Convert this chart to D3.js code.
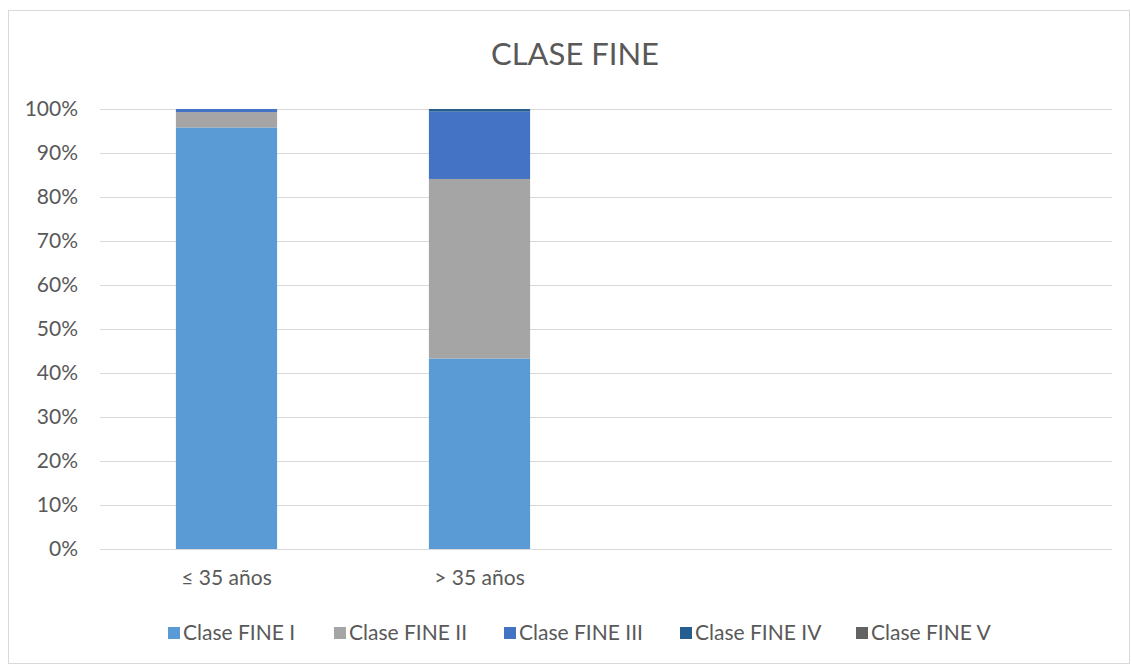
<!DOCTYPE html>
<html>
<head>
<meta charset="utf-8">
<script src="https://cdn.jsdelivr.net/npm/d3@7"></script>
<style>
  html, body { margin: 0; padding: 0; background: #fff; }
  svg { display: block; font-family: Lato, "Open Sans", sans-serif; }
</style>
</head>
<body>
<svg id="chart" width="1131" height="664"></svg>
<script>
// Age groups on the x axis (the two trailing slots are empty)
const categories = ["≤ 35 años", "> 35 años", "", " "];
const seriesNames = ["Clase FINE I", "Clase FINE II", "Clase FINE III", "Clase FINE IV", "Clase FINE V"];
const seriesColors = ["#5B9BD5", "#A5A5A5", "#4472C4", "#255E91", "#636363"];
// Share (%) of each FINE class per age group
const claseI   = [95.8, 43.3];
const claseII  = [3.5, 40.8];
const claseIII = [0.7, 15.3];
const claseIV  = [0.0, 0.6];
const claseV   = [0.0, 0.0];
const yTicks = [0, 0.1, 0.2, 0.3, 0.4, 0.5, 0.6, 0.7, 0.8, 0.9, 1.0];

const seriesValues = [claseI, claseII, claseIII, claseIV, claseV];
const rows = categories.slice(0, 2).map((c, i) => {
  const r = { cat: c };
  seriesNames.forEach((s, k) => r[s] = seriesValues[k][i]);
  return r;
});

const svg = d3.select("#chart");
const W = 1131, H = 664;
const m = { left: 100, right: 19, top: 109, bottom: 115 };
const FONT = "Lato, 'Open Sans', sans-serif";

// outer chart border
svg.append("rect")
  .attr("x", 8.5).attr("y", 10.5)
  .attr("width", W - 10).attr("height", H - 11)
  .attr("fill", "#fff").attr("stroke", "#d9d9d9");

svg.append("text")
  .attr("x", 575).attr("y", 65)
  .attr("text-anchor", "middle")
  .attr("fill", "#595959")
  .style("font-size", "31px")
  .text("CLASE FINE");

const x = d3.scaleBand().domain(categories)
  .range([m.left, W - m.right]).paddingInner(0.6).paddingOuter(0.3);
const y = d3.scaleLinear().domain([0, 1]).range([H - m.bottom, m.top]);

// horizontal gridlines
svg.append("g").selectAll("line").data(yTicks).join("line")
  .attr("x1", m.left).attr("x2", W - m.right)
  .attr("y1", d => Math.round(y(d)) + 0.5).attr("y2", d => Math.round(y(d)) + 0.5)
  .attr("stroke", "#d9d9d9").attr("stroke-width", 1);

const stack = d3.stack().keys(seriesNames).offset(d3.stackOffsetExpand);
const layers = stack(rows);

svg.append("g").selectAll("g").data(layers).join("g")
  .attr("fill", (d, i) => seriesColors[i])
  .selectAll("rect").data(d => d).join("rect")
  .attr("x", d => x(d.data.cat))
  .attr("width", x.bandwidth())
  .attr("y", d => y(d[1]))
  .attr("height", d => Math.max(0, y(d[0]) - y(d[1])));

// y axis labels
const yAxis = d3.axisLeft(y).tickValues(yTicks).tickFormat(d3.format(".0%")).tickSize(0).tickPadding(22);
const ya = svg.append("g").attr("transform", `translate(${m.left},0)`).call(yAxis);
ya.select(".domain").remove();
ya.selectAll("text").attr("fill", "#595959").style("font-size", "21px").style("font-family", FONT);

// x axis labels
const xAxis = d3.axisBottom(x).tickSize(0).tickPadding(21);
const xa = svg.append("g").attr("transform", `translate(0,${H - m.bottom})`).call(xAxis);
xa.select(".domain").remove();
xa.selectAll("text").attr("fill", "#595959").style("font-size", "21px").style("font-family", FONT);

// legend
const legendX = [168, 334, 504, 680, 856];
const lg = svg.append("g").selectAll("g").data(seriesNames).join("g")
  .attr("transform", (d, i) => `translate(${legendX[i]},633)`);
lg.append("rect").attr("x", 0).attr("y", -6).attr("width", 12).attr("height", 12)
  .attr("fill", (d, i) => seriesColors[i]);
lg.append("text").attr("x", 15).attr("y", 0).attr("dy", "0.35em")
  .attr("fill", "#595959").style("font-size", "21px").text(d => d);
</script>
</body>
</html>
